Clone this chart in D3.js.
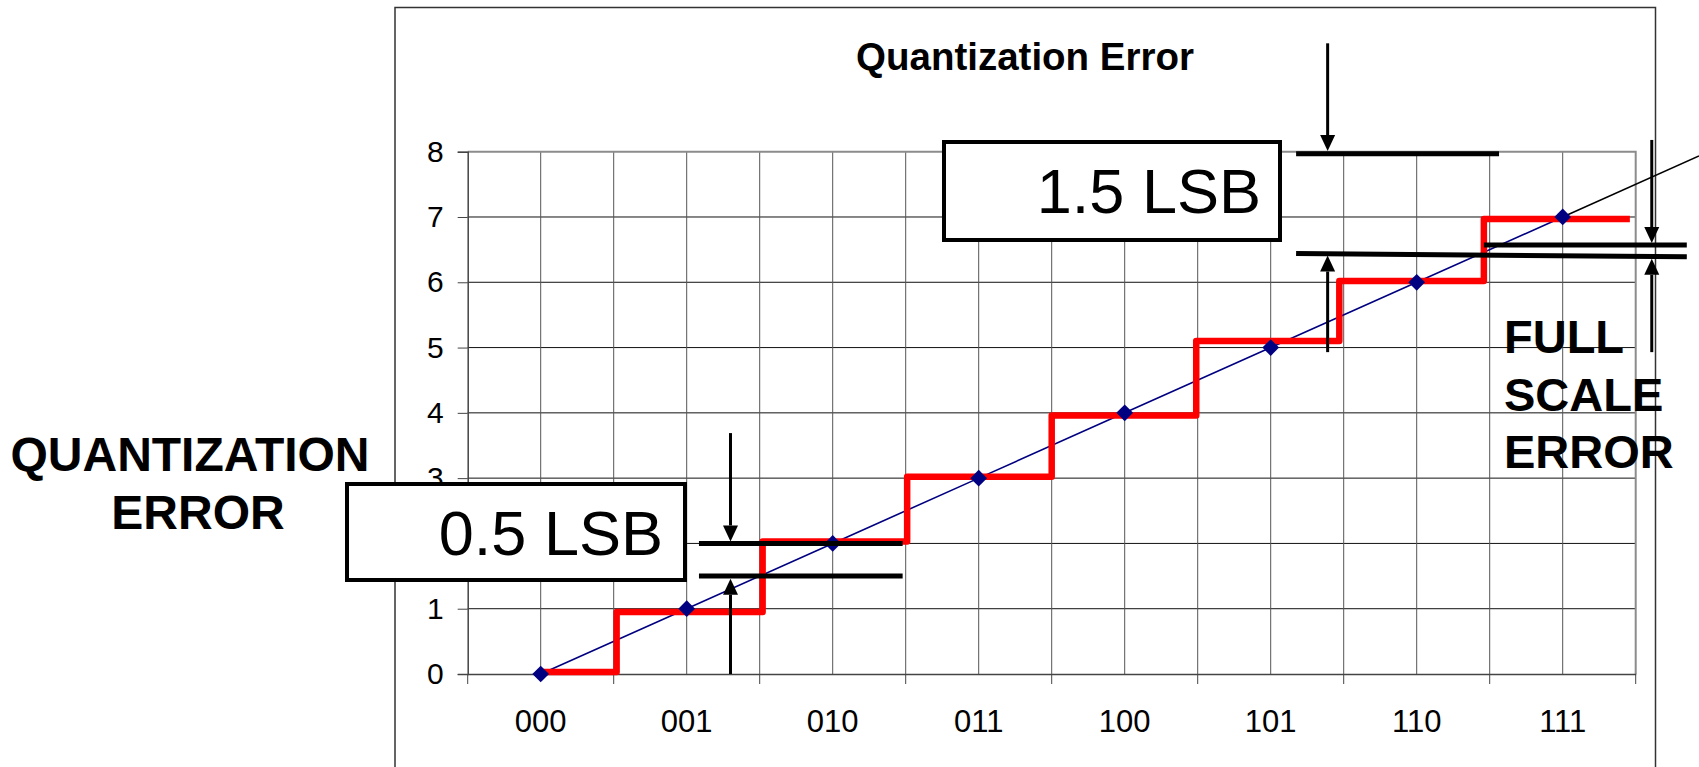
<!DOCTYPE html>
<html>
<head>
<meta charset="utf-8">
<script src="https://cdn.jsdelivr.net/npm/d3@7"></script>
<style>
  body { margin: 0; background: #fff; }
  svg { display: block; font-family: "Liberation Sans", Arial, sans-serif; }
</style>
</head>
<body>
<div id="chart"></div>
<script>
// ---- data ----
const codes = ["000", "001", "010", "011", "100", "101", "110", "111"]; // digital output codes
const idealValues = [0, 1, 2, 3, 4, 5, 6, 7];                        // ideal transfer (diamonds)
const yTicks = [0, 1, 2, 3, 4, 5, 6, 7, 8];
const stepEdges = [0.5, 1.02, 2.02, 3.01, 4.0, 4.99, 5.97, 6.96, 7.96]; // red staircase transitions (code units)
const stepLevels = [0.03, 0.95, 2.03, 3.02, 3.96, 5.1, 6.02, 6.97];     // red staircase levels

// ---- layout ----
const width = 1699, height = 767;
const plot = { left: 467.7, right: 1635.7, top: 151.7, bottom: 674 };

const svg = d3.select("#chart").append("svg")
  .attr("width", width)
  .attr("height", height);

const x = d3.scaleBand().domain(codes).range([plot.left, plot.right]).padding(0);
const xl = d3.scaleLinear().domain([0, codes.length]).range([plot.left, plot.right]); // continuous code axis
const y = d3.scaleLinear().domain([0, 8]).range([plot.bottom, plot.top]);

// chart area frame
svg.append("rect")
  .attr("x", 395).attr("y", 7.5)
  .attr("width", 1655.5 - 395).attr("height", 820)
  .attr("fill", "none").attr("stroke", "#333").attr("stroke-width", 1.5);

// title
svg.append("text")
  .attr("x", 1025).attr("y", 70)
  .attr("text-anchor", "middle")
  .attr("font-size", 38.5).attr("font-weight", "bold")
  .text("Quantization Error");

// gridlines: horizontal
svg.append("g")
  .selectAll("line")
  .data(yTicks.slice(1, -1))
  .join("line")
    .attr("x1", plot.left).attr("x2", plot.right)
    .attr("y1", d => y(d)).attr("y2", d => y(d))
    .attr("stroke", "#111").attr("stroke-width", 1);

// gridlines: vertical, at category edges and centres
const vLines = d3.range(1, codes.length * 2).map(i => i / 2);
svg.append("g")
  .selectAll("line")
  .data(vLines)
  .join("line")
    .attr("x1", d => xl(d)).attr("x2", d => xl(d))
    .attr("y1", plot.top).attr("y2", plot.bottom)
    .attr("stroke", "#555").attr("stroke-width", 1);

// plot area border (top, right)
svg.append("path")
  .attr("d", `M${plot.left},${plot.top}H${plot.right}V${plot.bottom}`)
  .attr("fill", "none").attr("stroke", "#8c8c8c").attr("stroke-width", 2);

// y axis
const yAxis = svg.append("g")
  .attr("transform", `translate(${plot.left},0)`)
  .call(d3.axisLeft(y).tickValues(yTicks).tickFormat(d3.format("d")).tickSize(10).tickPadding(14));
yAxis.select(".domain").attr("stroke", "#444").attr("stroke-width", 1.5);
yAxis.selectAll(".tick line").attr("stroke", "#444");
yAxis.selectAll("text").attr("font-size", 30).attr("font-family", "Liberation Sans, Arial, sans-serif").attr("fill", "#000");
// the "2" label sits fully under the 0.5 LSB box, so it is not drawn
yAxis.selectAll(".tick").filter(d => d === 2).select("text").remove();

// x axis (ticks at category boundaries)
const xAxis = svg.append("g")
  .attr("transform", `translate(0,${plot.bottom})`)
  .call(d3.axisBottom(x).tickSize(0).tickPadding(36));
xAxis.select(".domain").attr("stroke", "#444").attr("stroke-width", 1.5);
xAxis.selectAll("text").attr("font-size", 31).attr("font-family", "Liberation Sans, Arial, sans-serif").attr("fill", "#000");
svg.append("g")
  .selectAll("line")
  .data(d3.range(0, codes.length + 1))
  .join("line")
    .attr("x1", d => xl(d)).attr("x2", d => xl(d))
    .attr("y1", plot.bottom).attr("y2", plot.bottom + 10)
    .attr("stroke", "#444").attr("stroke-width", 1);

// ideal line (navy) with diamond markers
const ideal = idealValues.map((v, i) => ({ code: codes[i], v: v }));
svg.append("path")
  .datum(ideal)
  .attr("fill", "none").attr("stroke", "#000080").attr("stroke-width", 1.6)
  .attr("d", d3.line().x(d => x(d.code) + x.bandwidth() / 2).y(d => y(d.v)));

// extension of the ideal line past the last code (thin black)
const last = idealValues.length - 1;
const extEnd = xl.invert(width);
svg.append("line")
  .attr("x1", xl(last + 0.5)).attr("y1", y(idealValues[last]))
  .attr("x2", width).attr("y2", y(idealValues[last] + (extEnd - last - 0.5)))
  .attr("stroke", "#000").attr("stroke-width", 1.5);

// red staircase (actual transfer)
const steps = [];
stepLevels.forEach((lv, i) => {
  steps.push([stepEdges[i], lv]);
  steps.push([stepEdges[i + 1], lv]);
});
svg.append("path")
  .datum(steps)
  .attr("fill", "none").attr("stroke", "#ff0000").attr("stroke-width", 6.5)
  .attr("stroke-linejoin", "round")
  .attr("d", d3.line().x(d => xl(d[0])).y(d => y(d[1])));

svg.append("g")
  .selectAll("path")
  .data(ideal)
  .join("path")
    .attr("d", d3.symbol(d3.symbolSquare, 140))
    .attr("transform", d => `translate(${x(d.code) + x.bandwidth() / 2},${y(d.v)}) rotate(45)`)
    .attr("fill", "#000080");

// ---- annotations ----
function bar(x1, y1, x2, y2) {
  svg.append("line")
    .attr("x1", xl(x1)).attr("y1", y(y1))
    .attr("x2", xl(x2)).attr("y2", y(y2))
    .attr("stroke", "#000").attr("stroke-width", 5);
}

// arrow from (xc, from) to tip (xc, to), in data units
function arrow(xc, from, to) {
  const px = xl(xc), y0 = y(from), y1 = y(to);
  const dir = y1 > y0 ? 1 : -1;
  const headL = 16, headW = 7.5;
  svg.append("line")
    .attr("x1", px).attr("y1", y0)
    .attr("x2", px).attr("y2", y1 - dir * headL)
    .attr("stroke", "#000").attr("stroke-width", 3);
  svg.append("path")
    .attr("d", `M${px},${y1}L${px - headW},${y1 - dir * headL}L${px + headW},${y1 - dir * headL}Z`)
    .attr("fill", "#000");
}

function labelBox(x0, y0, w, h, txt, tx, ty) {
  svg.append("rect")
    .attr("x", x0).attr("y", y0).attr("width", w).attr("height", h)
    .attr("fill", "#fff").attr("stroke", "#000").attr("stroke-width", 4);
  svg.append("text")
    .attr("x", tx).attr("y", ty)
    .attr("text-anchor", "end")
    .attr("font-size", 63)
    .text(txt);
}

// 0.5 LSB quantization error
bar(1.584, 2, 2.979, 2);
bar(1.584, 1.5, 2.979, 1.5);
arrow(1.8, 3.69, 2.03);
arrow(1.8, 0, 1.46);
labelBox(347, 484, 338, 96, "0.5 LSB", 663, 555);

// 1.5 LSB full scale error
bar(5.674, 7.97, 7.064, 7.97);
bar(5.674, 6.44, 8.35, 6.39);
bar(6.96, 6.57, 8.35, 6.57);
arrow(5.89, 9.66, 8.01);
arrow(5.89, 4.93, 6.41);
arrow(8.11, 8.18, 6.6);
arrow(8.11, 4.93, 6.36);
labelBox(944, 142, 336, 98, "1.5 LSB", 1261, 213);

// side labels
const qLines = [["QUANTIZATION", 190, 471], ["ERROR", 198, 529]];
svg.append("g")
  .selectAll("text")
  .data(qLines)
  .join("text")
    .attr("x", d => d[1]).attr("y", d => d[2])
    .attr("text-anchor", "middle")
    .attr("font-size", 48).attr("font-weight", "bold")
    .text(d => d[0]);

const fsLines = ["FULL", "SCALE", "ERROR"];
svg.append("g")
  .selectAll("text")
  .data(fsLines)
  .join("text")
    .attr("x", 1504).attr("y", (d, i) => 353 + i * 57.5)
    .attr("font-size", 47).attr("font-weight", "bold")
    .text(d => d);
</script>
</body>
</html>
